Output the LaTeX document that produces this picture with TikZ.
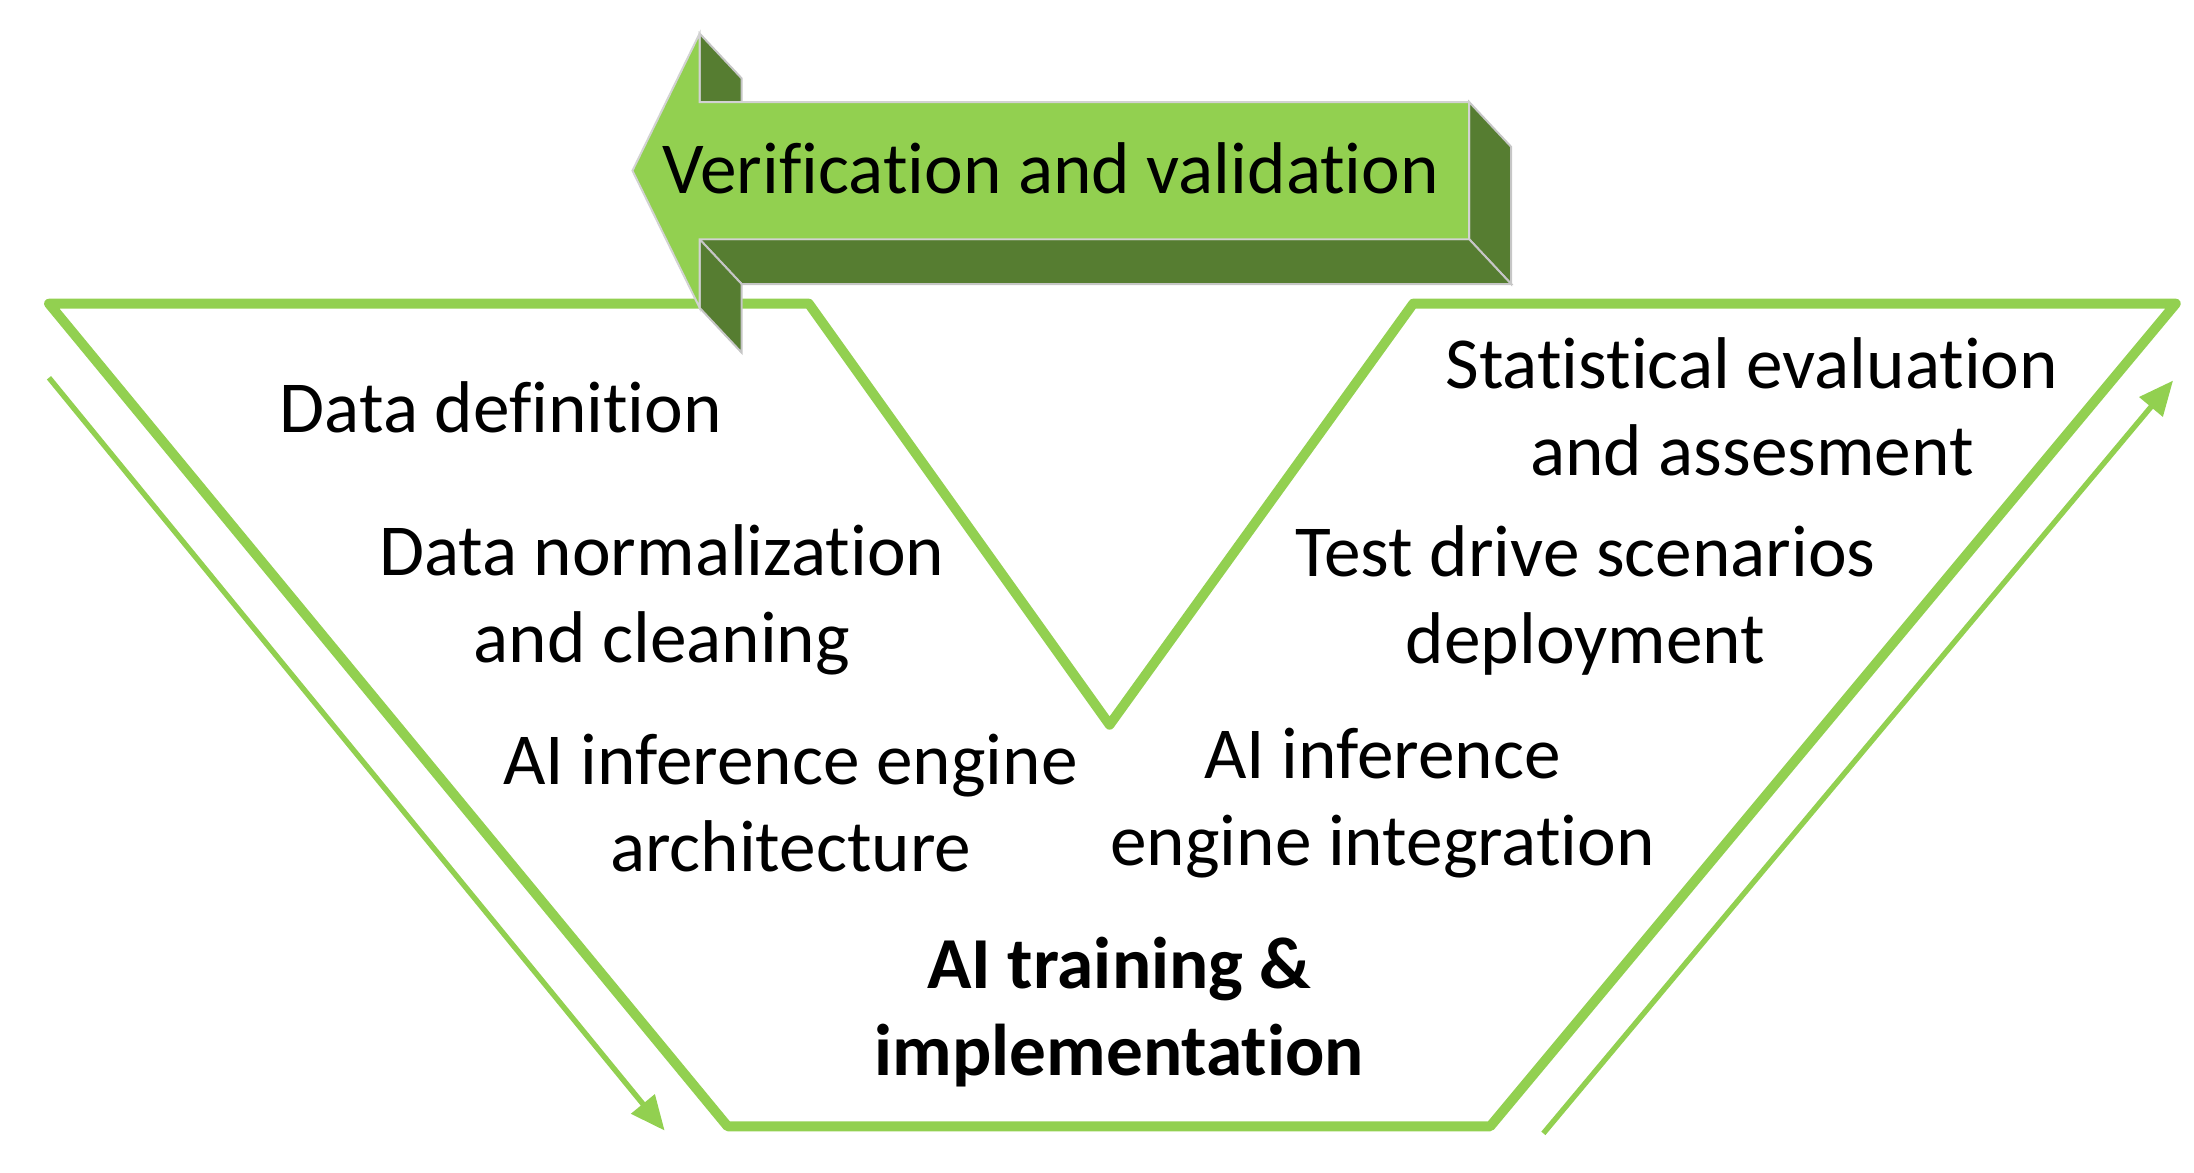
\documentclass[tikz,border=0pt]{standalone}
\usepackage{fontspec}
\setmainfont{Carlito}[RawFeature=-liga, RawFeature=-clig, RawFeature=-dlig, RawFeature=-calt, RawFeature=-rlig]
\usetikzlibrary{arrows.meta}
\definecolor{lgreen}{HTML}{92D050}
\definecolor{dgreen}{HTML}{567D31}

\begin{document}
\begin{tikzpicture}[
        txt/.style={align=center, font=\fontsize{14.9}{17.7}\selectfont},
        vline/.style={draw=lgreen, line width=2pt, line join=round},
        ar/.style={-{Triangle[length=7pt, width=6pt]}, draw=lgreen, line width=1.1pt},
        front/.style={fill=lgreen, draw=gray!35, line width=0.4pt},
        side/.style={fill=dgreen, draw=gray!45, line width=0.4pt},
    ]
    \useasboundingbox (0,0) rectangle (15.68,8.38);

    % V outline
    \coordinate (a) at (0.35,6.21);
    \coordinate (b) at (5.78,6.21);
    \coordinate (c) at (7.93,3.20);
    \coordinate (d) at (10.10,6.21);
    \coordinate (e) at (15.55,6.21);
    \coordinate (f) at (10.65,0.33);
    \coordinate (g) at (5.20,0.33);
    \draw[vline] (a) -- (b) -- (c) -- (d) -- (e) -- (f) -- (g) -- cycle;

    % side arrows
    \coordinate (l1) at (0.35,5.68);
    \coordinate (l2) at (4.75,0.30);
    \coordinate (r1) at (11.03,0.28);
    \coordinate (r2) at (15.53,5.66);
    \draw[ar] (l1) -- (l2);
    \draw[ar] (r1) -- (r2);

    % 3d arrow
    \fill[side] (5.00,8.14) -- (5.30,7.82) -- (5.30,7.65) -- (5.00,7.65) -- cycle;
    \fill[side] (10.50,7.65) -- (10.80,7.33) -- (10.80,6.35) -- (10.50,6.67) -- cycle;
    \fill[side] (5.00,6.67) -- (10.50,6.67) -- (10.80,6.35) -- (5.30,6.35) -- cycle;
    \fill[side] (5.00,6.67) -- (5.30,6.35) -- (5.30,5.86) -- (5.00,6.18) -- cycle;
    \filldraw[front] (4.52,7.16) -- (5.00,8.14) -- (5.00,7.65) -- (10.50,7.65)
        -- (10.50,6.67) -- (5.00,6.67) -- (5.00,6.18) -- cycle;
    \node[txt](vv) at (7.51,7.18) {Verification and validation};

    % steps
    \node[txt](def) at (3.58,5.47) {Data definition};
    \node[txt](norm) at (4.73,4.09) {Data normalization\\and cleaning};
    \node[txt](arch) at (5.65,2.64) {AI inference engine\\architecture};
    \node[txt, font=\fontsize{14.9}{17.7}\selectfont\bfseries](train) at (8.00,1.15) {AI training \&\\implementation};
    \node[txt](integ) at (9.88,2.64) {AI inference\\engine integration};
    \node[txt](test) at (11.33,4.09) {Test drive scenarios\\deployment};
    \node[txt](stat) at (12.52,5.47) {Statistical evaluation\\and assesment};
\end{tikzpicture}
\end{document}
